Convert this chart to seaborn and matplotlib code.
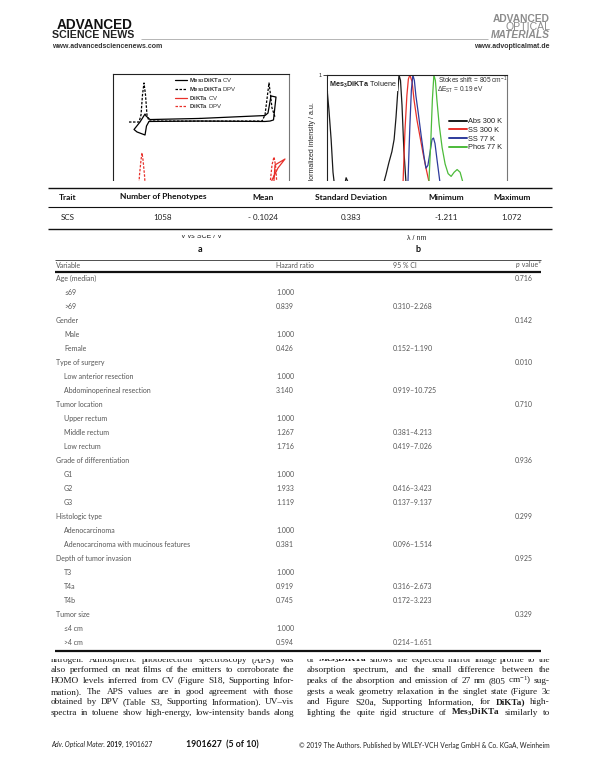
import matplotlib
matplotlib.use("Agg")
import matplotlib.pyplot as plt
import seaborn as sns
from matplotlib.lines import Line2D
from matplotlib.patches import Rectangle

# ---------------- data ----------------
# Panel a: cyclic / differential pulse voltammetry (V vs SCE, current a.u.)
mes_cv_V = [-0.22, -1.243, -1.325, -1.345, -1.448, -1.570, -1.509, -1.345, -1.315, -1.264,
            -0.22, 1.109, 1.211, 1.283, 1.334, 1.232, 1.170, 1.109, -0.22]
mes_cv_I = [6.78, 6.70, 6.96, 7.10, 6.52, 5.98, 5.80, 5.58, 6.23, 6.56,
            6.59, 6.56, 6.59, 6.67, 8.33, 8.41, 7.17, 6.99, 6.78]
mes_dpv_V = [-1.673, -1.468, -1.427, -1.397, -1.366, -1.335, -1.305, -1.264, -0.22,
             1.048, 1.109, 1.160, 1.191, 1.222, 1.252, 1.314]
mes_dpv_I = [6.52, 6.52, 7.03, 8.48, 9.35, 8.48, 7.03, 6.59, 6.59,
             6.59, 7.03, 8.48, 9.35, 8.48, 7.54, 6.88]
dik_cv_V = [-0.22, -1.243, -1.325, -1.448, -1.570, -1.345, -1.264, -0.22, 1.170, 1.273,
            1.314, 1.518, 1.375, 1.252, 1.211, 1.109, -0.22]
dik_cv_I = [1.09, 1.01, 1.30, 0.72, 0.43, 0.22, 0.65, 0.65, 0.65, 1.23,
            3.41, 3.84, 3.19, 2.32, 1.16, 1.09, 1.09]
dik_dpv_V = [-1.673, -1.489, -1.458, -1.427, -1.407, -1.386, -1.356, -1.325, -1.243,
             1.109, 1.211, 1.252, 1.293, 1.324, 1.354, 1.416]
dik_dpv_I = [0.87, 1.01, 2.68, 3.77, 4.28, 3.77, 2.68, 1.01, 0.87,
             0.87, 1.96, 3.41, 3.99, 3.41, 1.96, 0.87]
cv_labels = [r"$\mathbf{Mes_3DiKTa}$ CV", r"$\mathbf{Mes_3DiKTa}$ DPV",
             r"$\mathbf{DiKTa}$ CV", r"$\mathbf{DiKTa}$ DPV"]

# Panel b: normalized spectra (nm, a.u.)
abs_nm = [250, 255, 261, 266, 274, 285, 295, 301, 309, 325, 351, 378, 397, 407, 415, 423,
          429, 434, 439, 442, 446, 450, 455, 461, 469, 482, 511, 600, 730]
abs_I = [0.90, 0.75, 0.53, 0.29, 0.10, 0.05, 0.17, 0.25, 0.20, 0.09, 0.04, 0.09, 0.17, 0.27,
         0.36, 0.44, 0.53, 0.69, 0.89, 1.00, 0.96, 0.78, 0.45, 0.20, 0.06, 0.02, 0.00, 0.0, 0.0]
ss300_nm = [445, 453, 458, 463, 467, 471, 477, 482, 490, 498, 506, 514, 522, 533, 551, 591]
ss300_I = [0.0, 0.23, 0.60, 0.85, 0.97, 1.00, 0.95, 0.82, 0.67, 0.55, 0.43, 0.32, 0.22,
           0.09, 0.015, 0.0]
ss77_nm = [458, 466, 471, 475, 479, 483, 487, 493, 501, 509, 514, 519, 525, 530, 534, 538,
           543, 551, 562, 583, 631]
ss77_I = [0.0, 0.23, 0.63, 0.89, 1.00, 0.96, 0.85, 0.73, 0.56, 0.40, 0.32, 0.34, 0.44,
          0.53, 0.54, 0.50, 0.39, 0.22, 0.07, 0.01, 0.0]
phos_nm = [503, 517, 522, 527, 531, 535, 539, 543, 549, 557, 565, 573, 581, 589, 597, 605,
           613, 623, 645, 685]
phos_I = [0.0, 0.12, 0.23, 0.53, 0.82, 1.00, 0.96, 0.82, 0.64, 0.47, 0.35, 0.28, 0.26,
          0.29, 0.31, 0.29, 0.21, 0.10, 0.03, 0.0]
spec_labels = ["Abs 300 K", "SS 300 K", "SS 77 K", "Phos 77 K"]
spec_colors = ["#1a1a1a", "#e8302a", "#2e3b9c", "#4cbb3a"]

# Table 1
trait_cols = ["Trait", "Number of Phenotypes", "Mean", "Standard Deviation", "Minimum", "Maximum"]
trait_row = ["SCS", "1058", "- 0.1024", "0.383", "-1.211", "1.072"]

# Table 2
t2_header = ["Variable", "Hazard ratio", "95 % CI", "value*"]
variables = ["Age (median)", "≤69", ">69", "Gender", "Male", "Female", "Type of surgery",
             "Low anterior resection", "Abdominoperineal resection", "Tumor location",
             "Upper rectum", "Middle rectum", "Low rectum", "Grade of differentiation",
             "G1", "G2", "G3", "Histologic type", "Adenocarcinoma",
             "Adenocarcinoma with mucinous features", "Depth of tumor invasion",
             "T3", "T4a", "T4b", "Tumor size", "≤4 cm", ">4 cm"]
is_group = [1, 0, 0, 1, 0, 0, 1, 0, 0, 1, 0, 0, 0, 1, 0, 0, 0, 1, 0, 0, 1, 0, 0, 0, 1, 0, 0]
hazard = ["", "1.000", "0.839", "", "1.000", "0.426", "", "1.000", "3.140", "", "1.000",
          "1.267", "1.716", "", "1.000", "1.933", "1.119", "", "1.000", "0.381", "",
          "1.000", "0.919", "0.745", "", "1.000", "0.594"]
ci95 = ["", "", "0.310–2.268", "", "", "0.152–1.190", "", "", "0.919–10.725", "", "",
        "0.381–4.213", "0.419–7.026", "", "", "0.416–3.423", "0.137–9.137", "", "",
        "0.096–1.514", "", "", "0.316–2.673", "0.172–3.223", "", "", "0.214–1.651"]
pvals = ["0.716", "", "", "0.142", "", "", "0.010", "", "", "0.710", "", "", "",
         "0.936", "", "", "", "0.299", "", "", "0.925", "", "", "", "0.329", "", ""]

# Body text
left_lines = [
    "nitrogen. Atmospheric photoelectron spectroscopy (APS) was",
    "also performed on neat films of the emitters to corroborate the",
    "HOMO levels inferred from CV (Figure S18, Supporting Infor-",
    "mation). The APS values are in good agreement with those",
    "obtained by DPV (Table S3, Supporting Information). UV–vis",
    "spectra in toluene show high-energy, low-intensity bands along",
]
right_lines = [
    "of Mes$_3$DiKTa shows the expected mirror image profile to the",
    "absorption spectrum, and the small difference between the",
    "peaks of the absorption and emission of 27 nm (805 cm$^{-1}$) sug-",
    "gests a weak geometry relaxation in the singlet state (Figure 3c",
    "and Figure S20a, Supporting Information, for DiKTa) high-",
    "lighting the quite rigid structure of Mes$_3$DiKTa similarly to",
]

# ---------------- style ----------------
sns.set_theme(style="white")
plt.rcParams['font.family'] = ['Liberation Sans', 'DejaVu Sans']
plt.rcParams.update({
    'mathtext.fontset': 'custom',
    'mathtext.rm': 'Liberation Sans',
    'mathtext.it': 'Liberation Sans:italic',
    'mathtext.bf': 'Liberation Sans:bold',
    'mathtext.default': 'regular',
})

W, H = 595, 782
fig = plt.figure(figsize=(W / 100, H / 100), dpi=100)
fig.patch.set_facecolor('white')
renderer = fig.canvas.get_renderer()


def fx(x):
    return x / W


def fy(y):
    return 1 - y / H


def put(x, y, s, size, ha='left', va='center', z=8, **kw):
    return fig.text(fx(x), fy(y), s, fontsize=size, ha=ha, va=va, zorder=z, **kw)


def hline(x0, x1, y, lw, color='#111', z=7):
    fig.add_artist(Line2D([fx(x0), fx(x1)], [fy(y), fy(y)], transform=fig.transFigure,
                          lw=lw, color=color, zorder=z, solid_capstyle='butt'))


def cover(y0, y1):
    fig.add_artist(Rectangle((0, fy(y1)), 1, (y1 - y0) / H, transform=fig.transFigure,
                             facecolor='white', edgecolor='none', zorder=5))


def rich(x, y, parts, size, ha='left', va='baseline', z=8, family=None):
    objs, widths = [], []
    for s, kw in parts:
        t = fig.text(0, fy(y), s, fontsize=size, ha='left', va=va, zorder=z,
                     family=family, **kw)
        objs.append(t)
        widths.append(t.get_window_extent(renderer).width)
    total = sum(widths)
    cx = x - total if ha == 'right' else (x - total / 2 if ha == 'center' else x)
    for t, w in zip(objs, widths):
        t.set_x(fx(cx))
        cx += w


def justify(x0, x1, y, line, size, family):
    words = line.split(' ')
    objs, widths = [], []
    for w in words:
        wt = 'bold' if 'DiKTa' in w else 'normal'
        t = fig.text(0, fy(y), w, fontsize=size, ha='left', va='baseline', zorder=4,
                     family=family, fontweight=wt, color='#1a1a1a')
        objs.append(t)
        widths.append(t.get_window_extent(renderer).width)
    gap = (x1 - x0 - sum(widths)) / max(len(words) - 1, 1)
    cx = x0
    for t, w in zip(objs, widths):
        t.set_x(fx(cx))
        cx += w + gap


# ---------------- panel a ----------------
ax_a = fig.add_axes([fx(113), fy(212), (289 - 113) / W, (212 - 74) / H])
red = "#e8302a"
sns.lineplot(x=mes_cv_V, y=mes_cv_I, sort=False, estimator=None, color='black', lw=0.9, ax=ax_a)
sns.lineplot(x=mes_dpv_V, y=mes_dpv_I, sort=False, estimator=None, color='black', lw=0.9, ax=ax_a)
ax_a.lines[-1].set_dashes([2.0, 1.2])
sns.lineplot(x=dik_cv_V, y=dik_cv_I, sort=False, estimator=None, color=red, lw=0.9, ax=ax_a)
sns.lineplot(x=dik_dpv_V, y=dik_dpv_I, sort=False, estimator=None, color=red, lw=0.9, ax=ax_a)
ax_a.lines[-1].set_dashes([2.0, 1.2])
ax_a.set_xlim(-2.0, 1.6)
ax_a.set_ylim(0, 10)
ax_a.set_yticks([])
ax_a.set_xticks([])
for side, sp in ax_a.spines.items():
    sp.set_linewidth(0.8)
    sp.set_color('#777' if side == 'right' else '#222')
ax_a.set_xlabel("V vs SCE / V", fontsize=5, color='#222')
ax_a.xaxis.set_label_coords(0.5, -0.181)
ax_a.xaxis.label.set_va('center')
ha_handles = [Line2D([], [], color='black', lw=0.9),
              Line2D([], [], color='black', lw=0.9, dashes=[2.0, 1.2]),
              Line2D([], [], color=red, lw=0.9),
              Line2D([], [], color=red, lw=0.9, dashes=[2.0, 1.2])]
leg_a = ax_a.legend(ha_handles, cv_labels, loc='upper left', bbox_to_anchor=(0.352, 0.985),
                    frameon=False, fontsize=4.3, handlelength=2.0, handletextpad=0.3,
                    labelspacing=0.02, borderpad=0, borderaxespad=0)
for t in leg_a.get_texts():
    t.set_color('#333')

# ---------------- panel b ----------------
ax_b = fig.add_axes([fx(327), fy(212), (507 - 327) / W, (212 - 75) / H])
spec = [(abs_nm, abs_I), (ss300_nm, ss300_I), (ss77_nm, ss77_I), (phos_nm, phos_I)]
for (xs, ys), lab, col in zip(spec, spec_labels, spec_colors):
    sns.lineplot(x=xs, y=ys, sort=False, estimator=None, color=col, lw=0.9, ax=ax_b, label=lab)
ax_b.set_xlim(250, 730)
ax_b.set_ylim(0, 1)
ax_b.set_yticks([1])
ax_b.set_yticklabels(["1"])
ax_b.set_xticks([])
ax_b.tick_params(axis='y', labelsize=4, length=2.8, width=0.6, pad=0.8, direction='out',
                 left=True)
for side, sp in ax_b.spines.items():
    sp.set_linewidth(0.8)
    sp.set_color('#777' if side == 'right' else '#222')
ax_b.set_ylabel("Normalized intensity / a.u.", fontsize=5, color='#222')
ax_b.yaxis.set_label_coords(-0.078, 0.5)
ax_b.yaxis.label.set_va('center')
ax_b.set_xlabel("λ / nm", fontsize=5, color='#222')
ax_b.xaxis.set_label_coords(0.5, -0.19)
ax_b.xaxis.label.set_va('center')
leg_b = ax_b.legend(loc='upper left', bbox_to_anchor=(0.678, 0.685), frameon=False,
                    fontsize=5.3, handlelength=2.4, handletextpad=0.15, labelspacing=0.2,
                    borderpad=0, borderaxespad=0)
for ln in leg_b.get_lines():
    ln.set_linewidth(1.4)
for t in leg_b.get_texts():
    t.set_color('#222')
ax_b.text(0.011, 0.927, r"$\mathbf{Mes_3DiKTa}$ Toluene", transform=ax_b.transAxes,
          fontsize=5.2, va='center', ha='left', color='#222',
          bbox=dict(facecolor='white', edgecolor='none', pad=0.6))
ax_b.text(0.617, 0.962, "Stokes shift = 805 cm$^{-1}$", transform=ax_b.transAxes,
          fontsize=4.7, va='center', ha='left', color='#333')
ax_b.text(0.612, 0.89, "ΔE$_{ST}$ = 0.19 eV", transform=ax_b.transAxes,
          fontsize=4.7, va='center', ha='left', color='#333')

# panel letters
put(200, 250, "a", 6.5, ha='center', fontweight='bold', color='#111', family=['Lato', 'DejaVu Sans'])
put(418, 250, "b", 6.5, ha='center', fontweight='bold', color='#111', family=['Lato', 'DejaVu Sans'])

# ---------------- table 1 (covers lower part of charts) ----------------
cover(181, 234.5)
hline(48, 552, 188, 1.0)
hline(48, 552, 206.5, 0.8)
hline(48, 552, 228.5, 1.0)
t1_x = [68, 163, 263, 351, 446, 512]
for xc, s in zip(t1_x, trait_cols):
    put(xc, 197, s, 6, ha='center', fontweight='bold', color='#111', family=['Lato', 'DejaVu Sans'])
for xc, s in zip(t1_x, trait_row):
    put(xc, 217.5, s, 5.8, ha='center', color='#222', family=['Lato', 'DejaVu Sans'])

# ---------------- table 2 ----------------
cover(256, 658.5)
hline(55, 541, 259.5, 0.6, color='#333')
hline(55, 541, 272.3, 1.6, color='#111')
hline(55, 541, 650.5, 1.6, color='#111')
tfam = ['Lato', 'DejaVu Sans']
hc = '#555555'
put(56, 265.5, t2_header[0], 5, color=hc, family=tfam)
put(276, 265.5, t2_header[1], 5, color=hc, family=tfam)
put(393, 265.5, t2_header[2], 5, color=hc, family=tfam)
rich(541, 267.3, [("p", dict(style='italic', color=hc)),
                  (" " + t2_header[3], dict(color=hc))], 5, ha='right', family=tfam)
for i, name in enumerate(variables):
    yy = 278.5 + 14.0 * i
    put(56 if is_group[i] else 64, yy, name, 5, color=hc, family=tfam)
    if hazard[i]:
        put(276, yy, hazard[i], 5, color=hc, family=tfam)
    if ci95[i]:
        put(393, yy, ci95[i], 5, color=hc, family=tfam)
    if pvals[i]:
        put(515, yy, pvals[i], 5, color=hc, family=tfam)

# ---------------- body text ----------------
sfam = ['Liberation Serif', 'DejaVu Serif']
for i, line in enumerate(left_lines):
    justify(51, 294, 661.8 + 10.65 * i, line, 6.7, sfam)
for i, line in enumerate(right_lines):
    justify(307, 550, 661.8 + 10.65 * i, line, 6.7, sfam)

# ---------------- header ----------------
put(57, 25, "ADVANCED", 9.8, fontweight='bold', color='#111')
put(52, 35.5, "SCIENCE NEWS", 7.7, fontweight='bold', color='#222')
put(52, 47, "www.advancedsciencenews.com", 5.0, fontweight='bold', color='#333')
hline(141, 488, 38.5, 0.6, color='#aaa', z=2)
gray = '#8c8c8c'
put(550, 18.5, "ADVANCED", 7.4, ha='right', fontweight='bold', color=gray)
put(550, 27, "OPTICAL", 7.6, ha='right', color=gray)
put(550, 35.5, "MATERIALS", 7.4, ha='right', fontweight='bold', style='italic', color=gray)
put(550, 47, "www.advopticalmat.de", 5.0, ha='right', fontweight='bold', color='#333')

# ---------------- footer ----------------
ffam = ['Lato', 'DejaVu Sans']
rich(51, 747, [("Adv. Optical Mater.", dict(style='italic', color='#222')),
               (" 2019", dict(fontweight='bold', color='#222')),
               (", 1901627", dict(color='#222'))], 4.8, family=ffam)
put(222, 745, "1901627  (5 of 10)", 6.3, ha='center', fontweight='bold', color='#111', family=ffam)
put(550, 745, "© 2019 The Authors. Published by WILEY-VCH Verlag GmbH & Co. KGaA, Weinheim",
    4.8, ha='right', color='#222', family=ffam)

fig.savefig("out.png", dpi=100, facecolor='white')
